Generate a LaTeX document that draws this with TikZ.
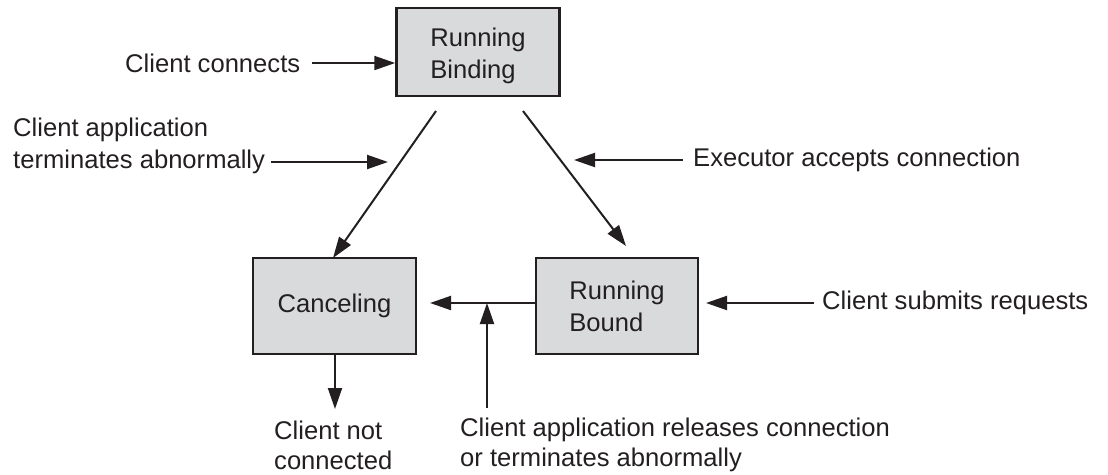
\documentclass[tikz,border=0pt]{standalone}
\usepackage{fontspec}
\setmainfont{Liberation Sans}
\usetikzlibrary{arrows.meta}
\definecolor{boxfill}{HTML}{D9DADC}
\definecolor{ink}{HTML}{231F20}
\begin{document}
\begin{tikzpicture}[x=1pt,y=-1pt,
  every node/.style={font=\fontsize{25.6}{32}\selectfont, text=ink},
  statebox/.style={draw=ink, fill=boxfill, line width=2.5pt, align=left, inner sep=0pt},
  lbl/.style={align=left, inner sep=0pt, anchor=west},
  arr/.style={draw=ink, line width=2pt, -{Triangle[length=21pt,width=14pt]}}]
\useasboundingbox (0,0) rectangle (1108,474);
% states
\node[statebox, minimum width=163pt, minimum height=88pt, text depth=0pt, text height=0pt] (rb) at (478,52) {};
\node[align=left, inner sep=0pt] (rbt) at (478,56) {Running\\Binding};
\node[statebox, minimum width=163pt, minimum height=96pt] (cancel) at (334.5,306) {Canceling};
\node[statebox, minimum width=162pt, minimum height=96pt] (bound) at (617,306) {Running\\Bound};
% labels
\node[lbl] (lconn) at (125,63) {Client connects};
\node[lbl] (labn) at (13,146) {Client application\\terminates abnormally};
\node[lbl] (lexec) at (693,160) {Executor accepts connection};
\node[lbl] (lsub) at (822,303) {Client submits requests};
\node[lbl, font=\fontsize{25.6}{30}\selectfont] (lnot) at (274,445) {Client not\\connected};
\node[lbl, font=\fontsize{25.6}{30}\selectfont] (lrel) at (460,445) {Client application releases connection\\or terminates abnormally};
% coordinates
\coordinate (d1s) at (436,111);
\coordinate (d1e) at (333,258);
\coordinate (d2s) at (523,111);
\coordinate (d2e) at (626,246);
\coordinate (t1) at (388,162);
\coordinate (t2) at (574,160);
\coordinate (ctip) at (430,303);
\coordinate (jn) at (487,303);
\coordinate (jb) at (487,408);
\coordinate (cdown) at (335,409);
\coordinate (stip) at (706,303);
% transitions
\draw[arr] (d1s) -- (d1e);
\draw[arr] (d2s) -- (d2e);
\draw[arr] (bound.west |- ctip) -- (ctip);
\draw[arr] (jb) -- (jn);
\draw[arr] (cancel.south -| cdown) -- (cdown);
% event arrows
\draw[arr] ([xshift=12pt]lconn.east) -- (rb.west |- lconn.east);
\draw[arr] ([xshift=6pt]labn.east |- t1) -- (t1);
\draw[arr] ([xshift=-10pt]lexec.west) -- (t2);
\draw[arr] ([xshift=-8pt]lsub.west) -- (stip);
\end{tikzpicture}
\end{document}
